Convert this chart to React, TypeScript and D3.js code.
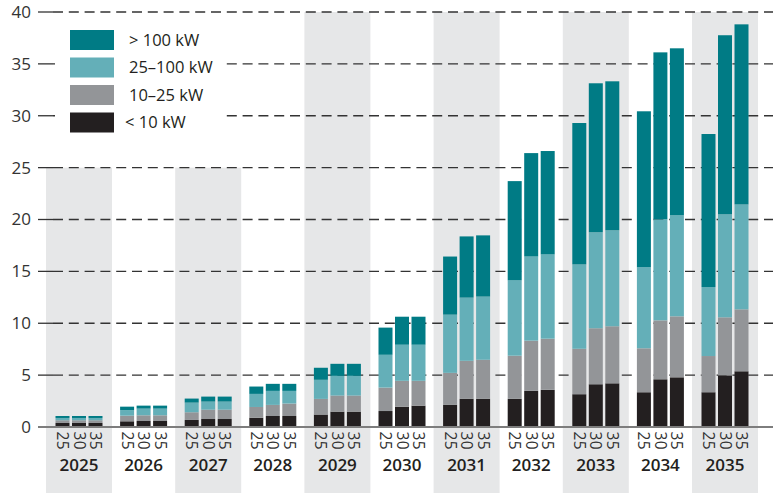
import React from 'react';
import * as d3 from 'd3';

const years = ['2025','2026','2027','2028','2029','2030','2031','2032','2033','2034','2035'];
const scenarios = ['25','30','35'];
const seriesNames = ['< 10 kW','10–25 kW','25–100 kW','> 100 kW'];
const legendOrder = ['> 100 kW','25–100 kW','10–25 kW','< 10 kW'];
const colors = ['#231f20','#939598','#64afb8','#007b85'];
const yTicks = [0,5,10,15,20,25,30,35,40];

// values per year, scenario 25 / 30 / 35
const under10 = [
  0.39,0.39,0.39, 0.55,0.58,0.58, 0.68,0.77,0.77, 0.90,1.06,1.06, 1.20,1.48,1.48,
  1.54,1.96,2.06, 2.13,2.71,2.71, 2.71,3.48,3.58, 3.16,4.12,4.21, 3.35,4.60,4.79, 3.35,4.98,5.37];
const from10to25 = [
  0.26,0.26,0.26, 0.54,0.55,0.55, 0.74,0.90,0.90, 1.03,1.07,1.20, 1.51,1.55,1.55,
  2.26,2.49,2.39, 3.09,3.67,3.77, 4.16,4.84,4.93, 4.38,5.40,5.50, 4.24,5.68,5.88, 3.49,5.59,5.97];
const from25to100 = [
  0.22,0.22,0.22, 0.53,0.64,0.64, 0.93,0.78,0.78, 1.26,1.35,1.22, 1.84,1.90,1.90,
  3.16,3.48,3.48, 5.61,6.09,6.09, 7.26,8.11,8.12, 8.13,9.25,9.25, 7.80,9.74,9.73, 6.65,9.93,10.11];
const over100 = [
  0.19,0.19,0.19, 0.34,0.29,0.29, 0.39,0.48,0.48, 0.71,0.68,0.68, 1.16,1.16,1.16,
  2.62,2.70,2.70, 5.60,5.90,5.90, 9.57,9.97,9.97, 13.63,14.36,14.36, 15.04,16.09,16.10, 14.75,17.26,17.36];

const W = 773, H = 493;
const font = '"Open Sans", "Noto Sans", sans-serif';

export default function App() {
  const y = d3.scaleLinear().domain([0, 40]).range([427, 12]);
  const step = 64.6;
  const x = d3.scaleBand<string>().domain(years).range([46.7, 46.7 + step * years.length]).padding(0);
  const inner = d3.scaleBand<string>().domain(scenarios).range([-23.5, 23.5]).paddingInner(0.1515).paddingOuter(0);

  const rows = years.flatMap((yr, i) => scenarios.map((s, j) => {
    const k = i * 3 + j;
    return { year: yr, scen: s, v0: under10[k], v1: from10to25[k], v2: from25to100[k], v3: over100[k] };
  }));
  const stack = d3.stack<any>().keys(['v0','v1','v2','v3']);
  const layers = stack(rows);

  const bandW = 66;
  return (
    <svg width={W} height={H} style={{ position: 'absolute', left: 0, top: 0, background: '#fff' }}>
      {years.map((yr, i) => i % 2 === 0 ? (
        <rect key={yr} x={x(yr)! + x.bandwidth() / 2 - bandW / 2} width={bandW}
          y={i === 0 || i === 2 ? y(25) : y(40)}
          height={H - (i === 0 || i === 2 ? y(25) : y(40))} fill="#e6e7e8" />
      ) : null)}
      {yTicks.filter(t => t > 0).map(t => (
        <g key={t}>
          <line x1={38} x2={53} y1={y(t)} y2={y(t)} stroke="#333" strokeWidth={1.3} />
          <line x1={53} x2={W} y1={y(t)} y2={y(t)} stroke="#333" strokeWidth={1.3} strokeDasharray="10,5.8" />
        </g>
      ))}
      <rect x={55} y={20} width={171} height={125} fill="#fff" />
      {layers.map((layer, li) => layer.map((d: any, k) => {
        const r = d.data;
        const cx = x(r.year)! + x.bandwidth() / 2;
        return (
          <rect key={li + '-' + k} x={cx + inner(r.scen)!} width={inner.bandwidth()}
            y={y(d[1])} height={y(d[0]) - y(d[1])} fill={colors[li]} />
        );
      }))}
      <line x1={38} x2={W} y1={y(0)} y2={y(0)} stroke="#7d7d7d" strokeWidth={2} />
      {yTicks.map(t => (
        <text key={t} x={31} y={y(t)} dy="0.35em" textAnchor="end" fontFamily={font} fontSize={17} fill="#333">{t}</text>
      ))}
      {rows.map((r, k) => {
        const cx = x(r.year)! + x.bandwidth() / 2 + inner(r.scen)! + inner.bandwidth() / 2;
        return (
          <text key={'s' + k} transform={`translate(${cx - 5.5},${431.5}) rotate(90)`} fontFamily={font}
            fontSize={15.5} letterSpacing={0.3} fill="#333">{r.scen}</text>
        );
      })}
      {years.map(yr => (
        <text key={'y' + yr} x={x(yr)! + x.bandwidth() / 2} y={471} textAnchor="middle" fontFamily={font}
          fontSize={17} fontWeight={600} fill="#231f20">{yr}</text>
      ))}
      {legendOrder.map((name, i) => {
        const ci = seriesNames.indexOf(name);
        const yy = 30 + i * 27.5;
        return (
          <g key={name}>
            <rect x={70} y={yy} width={44} height={20} fill={colors[ci]} />
            <text x={name.startsWith('<') ? 125 : 129} y={yy + 10} dy="0.35em" fontFamily={font} fontSize={16.5} fill="#231f20">{name}</text>
          </g>
        );
      })}
    </svg>
  );
}
